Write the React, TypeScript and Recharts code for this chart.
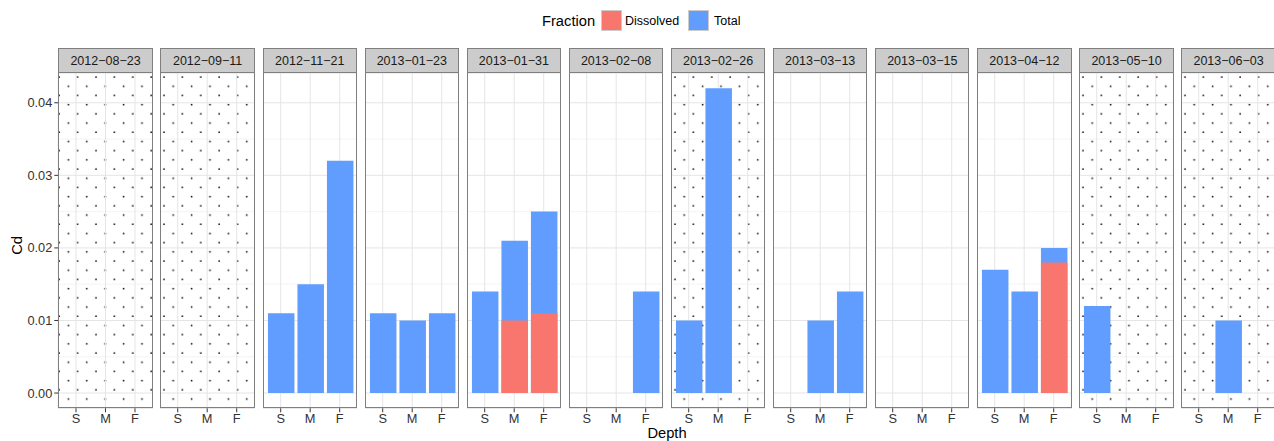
import { BarChart, Bar, XAxis, YAxis, CartesianGrid } from 'recharts';

const depths = ['S', 'M', 'F'];

const sampleDates = [
  '2012-08-23', '2012-09-11', '2012-11-21', '2013-01-23', '2013-01-31', '2013-02-08',
  '2013-02-26', '2013-03-13', '2013-03-15', '2013-04-12', '2013-05-10', '2013-06-03',
];

// Total Cd per panel, in S / M / F order (null = not measured)
const totalCd: (number | null)[][] = [
  [null, null, null],
  [null, null, null],
  [0.011, 0.015, 0.032],
  [0.011, 0.010, 0.011],
  [0.014, 0.021, 0.025],
  [null, null, 0.014],
  [0.010, 0.042, null],
  [null, 0.010, 0.014],
  [null, null, null],
  [0.017, 0.014, 0.020],
  [0.012, null, null],
  [null, 0.010, null],
];

const dissolvedCd: (number | null)[][] = [
  [null, null, null],
  [null, null, null],
  [null, null, null],
  [null, null, null],
  [null, 0.010, 0.011],
  [null, null, null],
  [null, null, null],
  [null, null, null],
  [null, null, null],
  [null, null, 0.018],
  [null, null, null],
  [null, null, null],
];

// panels that get the dotted background
const dottedDates = ['2012-08-23', '2012-09-11', '2013-02-26', '2013-05-10', '2013-06-03'];

const majorTicks = [0, 0.01, 0.02, 0.03, 0.04];
const minorTicks = [0.005, 0.015, 0.025, 0.035];
const yDomain = [-0.0021, 0.0441];

const BLUE = '#619CFF';
const RED = '#F8766D';
const FONT = '"Liberation Sans", Arial, Helvetica, sans-serif';
const TEXT = '#333333';

const PANEL_LEFT = 58.3;
const PANEL_STEP = 102.1;
const PANEL_W = 94.4;
const STRIP_TOP = 48.3;
const PLOT_TOP = 73.2;
const PLOT_H = 335.3;
const AXIS_H = 28;
const BAR_W = 26.5;

function Panel({ index }: { index: number }) {
  const date = sampleDates[index];
  const rows = depths.map((d, j) => ({
    depth: d,
    Total: totalCd[index][j],
    Dissolved: dissolvedCd[index][j],
  }));
  const first = index === 0;
  const left = PANEL_LEFT + PANEL_STEP * index;
  const yw = first ? PANEL_LEFT : 0;
  const dotted = dottedDates.includes(date);
  const pid = `dots-${index}`;

  return (
    <>
      <div
        style={{
          position: 'absolute',
          left,
          top: STRIP_TOP,
          width: PANEL_W,
          height: PLOT_TOP - STRIP_TOP + 1,
          boxSizing: 'border-box',
          background: '#cccccc',
          border: '1px solid #7f7f7f',
          fontFamily: FONT,
          fontSize: 12.5,
          color: '#1a1a1a',
          display: 'flex',
          alignItems: 'center',
          justifyContent: 'center',
        }}
      >
        {date.replace(/-/g, '\u2212')}
      </div>
      <div style={{ position: 'absolute', left: left - yw, top: PLOT_TOP }}>
        <BarChart
          width={yw + PANEL_W}
          height={PLOT_H + AXIS_H}
          data={rows}
          margin={{ top: 0, right: 0, bottom: 0, left: 0 }}
          barSize={BAR_W}
          barGap={-BAR_W}
        >
          <defs>
            <pattern id={pid} width={18.4} height={18.4} patternUnits="userSpaceOnUse">
              <rect width={18.4} height={18.4} fill="#ffffff" />
              <circle cx={4} cy={4} r={0.9} fill="#1a1a1a" />
              <circle cx={13.2} cy={13.2} r={0.9} fill="#1a1a1a" />
            </pattern>
          </defs>
          <CartesianGrid
            yAxisId="minor"
            vertical={false}
            stroke="#f4f4f4"
            fill={dotted ? `url(#${pid})` : '#ffffff'}
            fillOpacity={1}
          />
          <CartesianGrid stroke="#e5e5e5" />
          <XAxis
            dataKey="depth"
            interval={0}
            padding={{ left: 2.95, right: 2.95 }}
            axisLine={false}
            tickSize={4}
            tickMargin={2}
            tickLine={{ stroke: TEXT }}
            tick={{ fill: TEXT, fontSize: 12.8, fontFamily: FONT }}
            height={AXIS_H}
          />
          <YAxis
            yAxisId="minor"
            hide
            domain={yDomain}
            ticks={minorTicks}
            allowDataOverflow
          />
          <YAxis
            hide={!first}
            width={yw}
            domain={yDomain}
            ticks={majorTicks}
            allowDataOverflow
            axisLine={false}
            tickSize={4}
            tickMargin={2}
            tickLine={{ stroke: TEXT }}
            tick={{ fill: TEXT, fontSize: 12.8, fontFamily: FONT }}
            tickFormatter={(v: number) => v.toFixed(2)}
          />
          <Bar dataKey="Total" fill={BLUE} isAnimationActive={false} />
          <Bar dataKey="Dissolved" fill={RED} isAnimationActive={false} />
        </BarChart>
      </div>
      <div
        style={{
          position: 'absolute',
          left,
          top: PLOT_TOP - 1,
          width: PANEL_W,
          height: PLOT_H + 1,
          boxSizing: 'border-box',
          border: '1px solid #7f7f7f',
          pointerEvents: 'none',
        }}
      />
    </>
  );
}

function LegendKey({ left, color }: { left: number; color: string }) {
  return (
    <div
      style={{
        position: 'absolute',
        left,
        top: 10,
        width: 21,
        height: 21,
        boxSizing: 'border-box',
        border: '1px solid #cccccc',
        background: color,
      }}
    />
  );
}

export default function App() {
  const label = { position: 'absolute' as const, fontFamily: FONT, color: '#000', lineHeight: 1, whiteSpace: 'nowrap' as const };
  return (
    <div
      style={{
        position: 'absolute',
        left: 0,
        top: 0,
        width: 1274,
        height: 441,
        overflow: 'hidden',
        background: '#ffffff',
      }}
    >
      <div style={{ ...label, left: 542, top: 13.5, fontSize: 14.7 }}>Fraction</div>
      <LegendKey left={601} color={RED} />
      <div style={{ ...label, left: 625, top: 14.8, fontSize: 12.5 }}>Dissolved</div>
      <LegendKey left={688} color={BLUE} />
      <div style={{ ...label, left: 714, top: 14.8, fontSize: 12.5 }}>Total</div>

      {sampleDates.map((_, i) => (
        <Panel key={i} index={i} />
      ))}

      <div
        style={{
          ...label,
          left: 17 - 30,
          top: 245 - 7.35,
          width: 60,
          textAlign: 'center',
          fontSize: 14.7,
          transform: 'rotate(-90deg)',
        }}
      >
        Cd
      </div>
      <div style={{ ...label, left: 617, top: 425.5, width: 100, textAlign: 'center', fontSize: 14.7 }}>
        Depth
      </div>
    </div>
  );
}
